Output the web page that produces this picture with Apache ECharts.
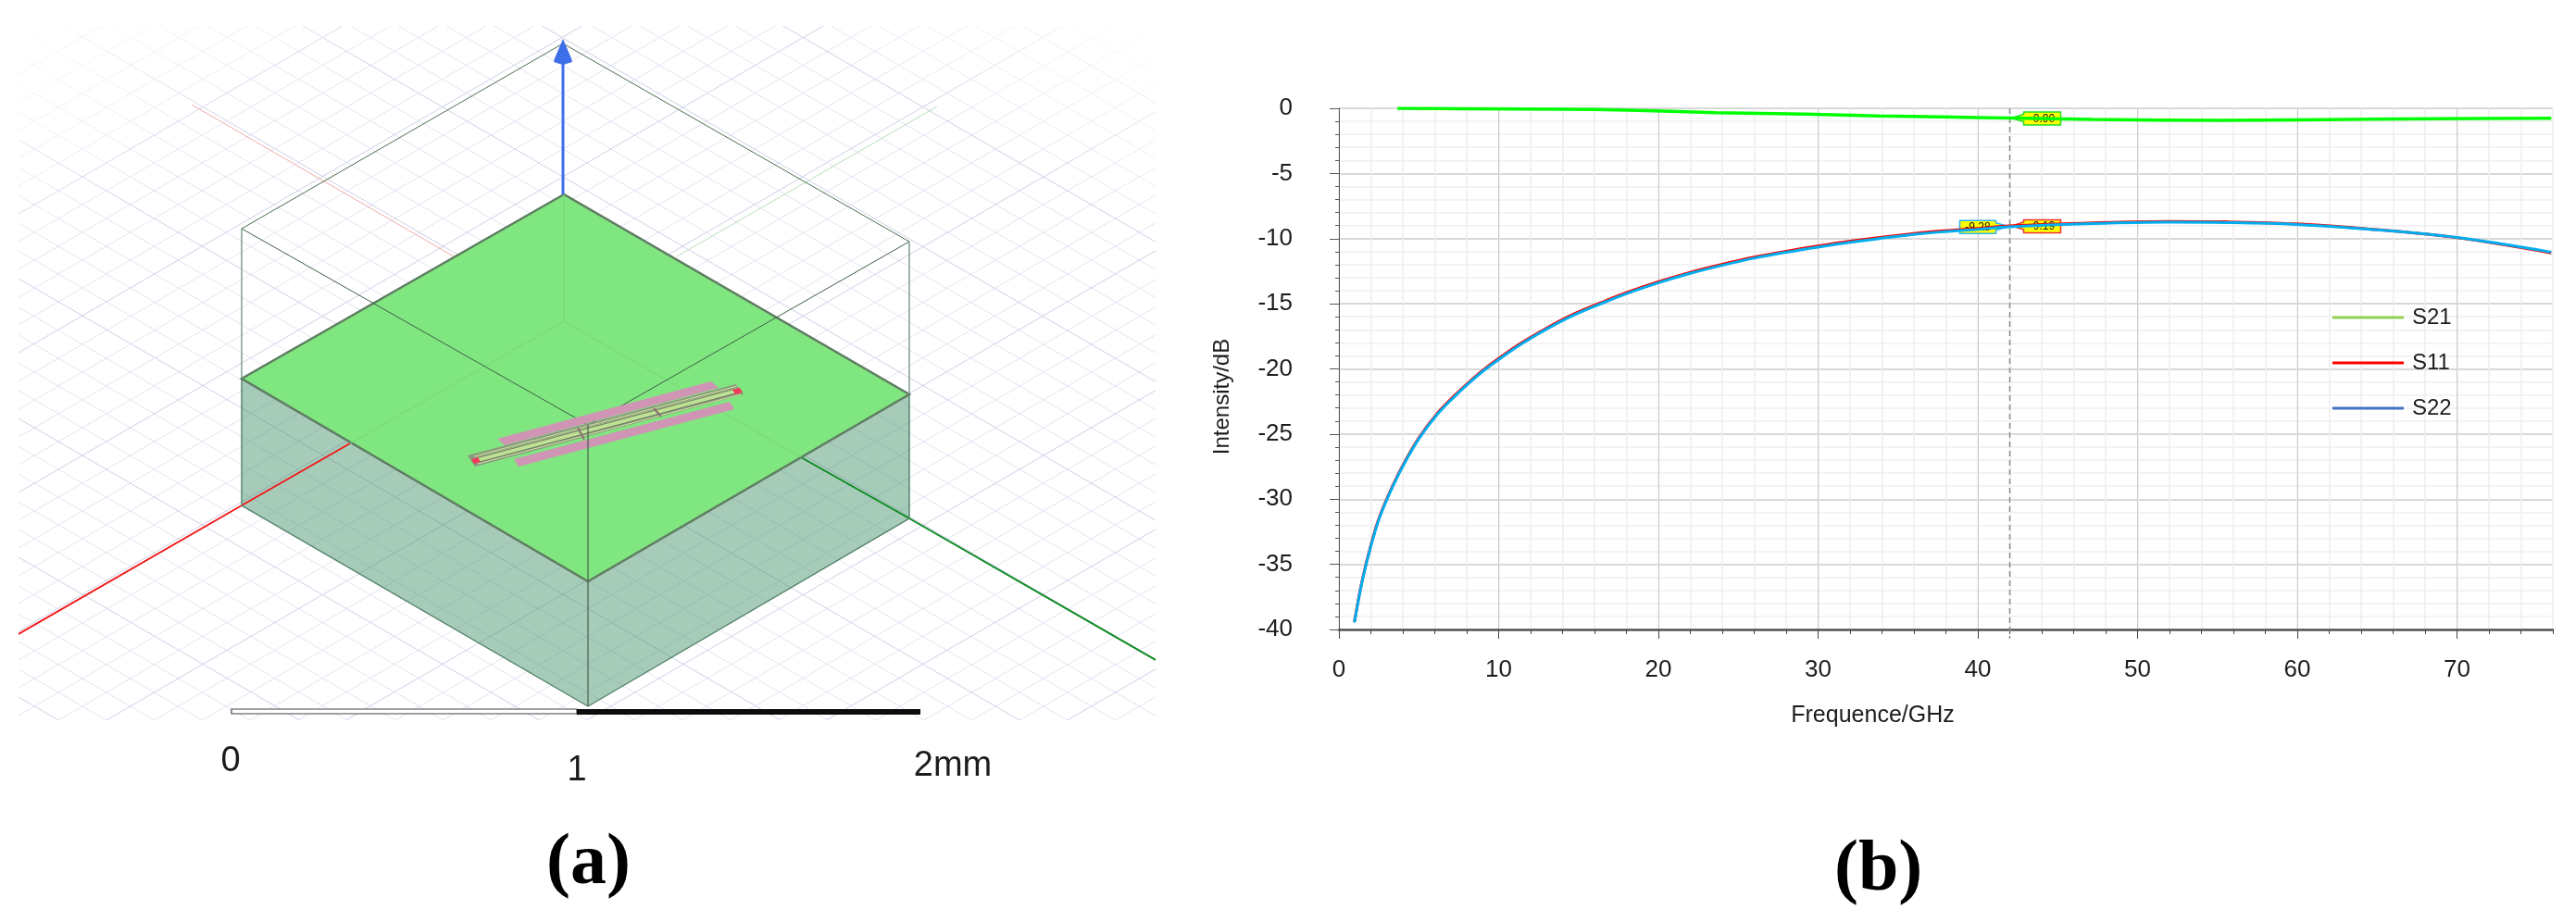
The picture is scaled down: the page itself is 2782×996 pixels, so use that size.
<!DOCTYPE html>
<html>
<head>
<meta charset="utf-8">
<script src="https://cdn.jsdelivr.net/npm/echarts@6/dist/echarts.min.js"></script>
<style>html,body{margin:0;padding:0;background:#fff}</style>
</head>
<body>
<div id="main" style="width:2782px;height:996px;"></div>
<script type="text/javascript">
// panel (b): S parameters
var freqS21 = [3.66, 8.37, 13.9, 18.1, 23.6, 29.2, 33.8, 37.7, 42, 47.2, 55.2, 60.2, 68.9, 75.9];
var s21 = [0, -0.03, -0.07, -0.14, -0.33, -0.45, -0.58, -0.66, -0.75, -0.85, -0.92, -0.88, -0.8, -0.76];
var freqRefl = [0.97, 1.44, 2.0, 2.55, 3.38, 4.21, 5.04, 6.15, 7.26, 8.37, 9.2, 9.98, 11.41, 13.07, 14.74, 16.7, 18.06, 19.98, 21.9, 24, 26, 28, 30, 31.9, 33.8, 36, 37.95, 39.9, 42, 47.2, 51.9, 55.5, 59.9, 64.4, 69.9, 75.9];
var s22 = [-39.47, -36.4, -33.6, -31.4, -29, -27, -25.3, -23.5, -22.1, -20.85, -20, -19.3, -18.1, -16.9, -15.85, -14.85, -14.2, -13.4, -12.7, -12.05, -11.5, -11.05, -10.65, -10.3, -10, -9.68, -9.47, -9.3, -9.1, -8.85, -8.74, -8.77, -8.91, -9.27, -9.9, -11.04];
var s11 = [-39.4, -36.32, -33.52, -31.32, -28.92, -26.92, -25.22, -23.42, -22.02, -20.77, -19.92, -19.22, -18.02, -16.82, -15.77, -14.77, -14.12, -13.32, -12.62, -11.97, -11.42, -10.97, -10.57, -10.22, -9.92, -9.6, -9.39, -9.22, -9.02, -8.79, -8.68, -8.71, -8.87, -9.25, -9.92, -11.1];
var freqTicks = [0, 10, 20, 30, 40, 50, 60, 70];
var seriesNames = ['S21', 'S11', 'S22'];

// marker at 42 GHz: printed value and the curve height it points to
var markerFreq = 42;
var markerText = ['-0.90', '-9.19', '-9.28'];
var markerCurve = [-0.74, -9.02, -9.07];

// panel (a): schematic, in the units of its own hidden axes
var floorDownMinor = [723, 693, 663, 633, 572, 542, 512, 482, 422, 392, 362, 332, 271, 241, 211, 181, 121, 91, 61, 31, -30, -60, -90, -120, -180, -210, -240, -270, -331, -361, -391, -421, -481, -511, -541, -571, -632, -662, -692];
var floorDownMajor = [753, 602, 452, 301, 151, 0, -150, -300, -451, -601];
var floorUpMinor = [50, 111, 141, 171, 201, 261, 291, 321, 351, 412, 442, 472, 502, 562, 592, 622, 652, 713, 743, 773, 803, 863, 893, 923, 953, 1014, 1044, 1074, 1104, 1164, 1194, 1224, 1254, 1315, 1345, 1375, 1405, 1465, 1495];
var floorUpMajor = [80, 231, 381, 532, 682, 833, 983, 1134, 1284, 1435];

var topFace = [[609, 210], [261, 409], [635, 628], [982, 426]];
var leftSide = [[261, 409], [635, 628], [635, 763], [261, 546]];
var rightSide = [[635, 628], [982, 426], [982, 560], [635, 763]];
var airTop = [[608, 47], [261, 247], [635, 459], [982, 261]];

var fadeLeft = [[20, 28], [470, 28], [20, 290]];
var fadeRight = [[1248, 28], [880, 28], [1248, 240]];

var redAxis = [[20, 685], [261, 546], [378, 479]];
var redFaint = [[207, 113], [490, 277]];
var greenAxis = [[865, 494], [982, 560], [1248, 713]];
var greenFaint = [[731, 277], [1012, 115]];
var zAxis = [[608, 210], [608, 66]];
var zCone = [[608, 42], [617, 63], [618, 67], [608, 70], [598, 67], [599, 63]];
var innerBack = [[378, 479], [609, 347], [865, 494]];
var innerMast = [[609, 210], [609, 347]];

var padUpper = [[537, 474], [768, 412], [776, 419], [545, 481]];
var padLower = [[555, 496], [788, 434], [793, 442], [560, 504]];
var lineOuter = [[505, 492], [795, 415], [803, 426], [513, 504]];
var lineInner = [[514, 494], [794, 419], [798, 424], [518, 499]];
var lineEdgeA = [[512, 493], [796, 417]];
var lineEdgeB = [[516, 501], [800, 426]];
var lineGapA = [[514, 495], [794, 420]];
var lineGapB = [[518, 499], [798, 424]];
var portLeft = [[509, 496], [516, 494], [519, 499], [512, 501]];
var portRight = [[791, 421], [799, 419], [802, 424], [794, 426]];
var stubA = [[624, 462], [631, 475]];
var stubB = [[706, 441], [714, 450]];

var scaleWhite = [[250, 766], [623, 766], [623, 771], [250, 771]];
var scaleBlack = [[623, 766], [994, 766], [994, 772], [623, 772]];
var scaleLabels = ['0', '1', '2mm'];
var scaleLabelAt = [[249, 823], [623, 833], [1029, 828]];

var FLOOR_SLOPE = 0.58;
var SANS = '"Liberation Sans", sans-serif';
var TEXT = '#1c1c1c';

function floorLine(offset, sign) {
    return [[20, offset], [1248, offset + sign * FLOOR_SLOPE * 1228]];
}
function floorShapes(list, sign, color) {
    return list.map(function (c) {
        return {pts: floorLine(c, sign), stroke: color, width: 1};
    });
}

var modelShapes = [].concat(
    floorShapes(floorDownMinor, 1, '#e4e4f3'),
    floorShapes(floorUpMinor, -1, '#e4e4f3'),
    floorShapes(floorDownMajor, 1, '#cfcfe8'),
    floorShapes(floorUpMajor, -1, '#cfcfe8'),
    [
        {pts: fadeLeft, fade: [[20, 28], [133, 224]]},
        {pts: fadeRight, fade: [[1248, 28], [1146, 205]]},
        {pts: redFaint, stroke: '#f2aaaa', width: 1},
        {pts: greenFaint, stroke: '#b7ddb7', width: 1},
        {pts: leftSide, closed: true, fill: 'rgba(60,140,100,0.45)'},
        {pts: rightSide, closed: true, fill: 'rgba(60,140,100,0.45)'},
        {pts: redAxis, stroke: '#f01818', width: 2},
        {pts: greenAxis, stroke: '#0a8a1e', width: 2},
        {pts: [leftSide[0], leftSide[3], leftSide[2]], stroke: '#4f8068', width: 1.4},
        {pts: [rightSide[1], rightSide[2], rightSide[3]], stroke: '#4f8068', width: 1.4},
        {pts: topFace, closed: true, fill: '#80e680', stroke: '#5f7d62', width: 2.5},
        {pts: innerBack, stroke: '#76d878', width: 1},
        {pts: innerMast, stroke: '#76d878', width: 1},
        {pts: [airTop[3], airTop[0], airTop[1]], stroke: '#4c6e50', width: 1},
        {pts: [airTop[1], airTop[2], airTop[3]], stroke: '#3f5f45', width: 1},
        {pts: [airTop[1], topFace[1]], stroke: '#76968a', width: 1.4},
        {pts: [airTop[3], topFace[3]], stroke: '#76968a', width: 1.4},
        {pts: padUpper, closed: true, fill: '#d094b4'},
        {pts: padLower, closed: true, fill: '#d094b4'},
        {pts: lineOuter, closed: true, fill: '#8a9880'},
        {pts: lineInner, closed: true, fill: '#bfe194'},
        {pts: lineEdgeA, stroke: '#cfe89a', width: 1},
        {pts: lineEdgeB, stroke: '#cfe89a', width: 1},
        {pts: lineGapA, stroke: '#6a7a60', width: 1},
        {pts: lineGapB, stroke: '#6a7a60', width: 1},
        {pts: portLeft, closed: true, fill: '#f23a5c'},
        {pts: portRight, closed: true, fill: '#f23a5c'},
        {pts: stubA, stroke: '#8b6f70', width: 2},
        {pts: stubB, stroke: '#8b6f70', width: 2},
        {pts: [[635, 459], [635, 763]], stroke: '#43604c', width: 1.2},
        {pts: zAxis, stroke: '#3f6fe8', width: 3},
        {pts: zCone, closed: true, fill: '#3f6fe8'},
        {text: 'Z', at: [615, 18], size: 26, color: '#3f6fe8'},
        {pts: scaleWhite, closed: true, fill: '#ffffff', stroke: '#444444', width: 1.2},
        {pts: scaleBlack, closed: true, fill: '#0c0c0c'}
    ]
);

var scaleShapes = scaleLabels.map(function (t, i) {
    return {text: t, at: scaleLabelAt[i], size: 38, color: TEXT};
});

function drawShape(it, api) {
    if (it.text) {
        var c = api.coord(it.at);
        return {type: 'text', x: c[0], y: c[1], style: {
            text: it.text, fill: it.color, fontSize: it.size,
            fontFamily: SANS, align: 'center', verticalAlign: 'middle'
        }};
    }
    var pts = it.pts.map(function (p) { return api.coord(p); });
    if (it.fade) {
        var a = api.coord(it.fade[0]), b = api.coord(it.fade[1]);
        return {type: 'polygon', shape: {points: pts}, style: {
            fill: new echarts.graphic.LinearGradient(a[0], a[1], b[0], b[1], [
                {offset: 0, color: 'rgba(255,255,255,0.97)'},
                {offset: 1, color: 'rgba(255,255,255,0)'}
            ], true)
        }};
    }
    if (it.closed) {
        return {type: 'polygon', shape: {points: pts}, style: {
            fill: it.fill, stroke: it.stroke || null, lineWidth: it.width || 0
        }};
    }
    return {type: 'polyline', shape: {points: pts}, style: {
        fill: null, stroke: it.stroke, lineWidth: it.width
    }};
}

function modelSeries(items, clip) {
    return {
        type: 'custom', xAxisIndex: 2, yAxisIndex: 1, clip: clip, silent: true,
        data: items.map(function (_, i) { return [i]; }),
        renderItem: function (params, api) {
            return drawShape(items[params.dataIndex], api);
        }
    };
}

function zip(a, b) {
    return a.map(function (v, i) { return [v, b[i]]; });
}

function renderMarker(params, api) {
    var i = params.dataIndex;
    if (i === markerText.length) {
        var top = api.coord([markerFreq, 0]), bot = api.coord([markerFreq, -40]);
        return {type: 'line', shape: {x1: top[0], y1: top[1], x2: bot[0], y2: bot[1] + 10},
            style: {stroke: '#8a8a8a', lineWidth: 1.5, lineDash: [6, 4]}};
    }
    var tip = api.coord([markerFreq, markerCurve[i]]);
    var onLeft = i === 2;
    var tipX = tip[0] + (onLeft ? -1 : 2);
    var near = tip[0] + (onLeft ? -15 : 15);
    var far = tip[0] + (onLeft ? -54 : 55);
    var colors = ['#22dd22', '#f03030', '#28b4f0'];
    return {type: 'group', children: [
        {type: 'polygon', shape: {points: [
            [tipX, tip[1]], [near, tip[1] - 4], [near, tip[1] - 6.5], [far, tip[1] - 6.5],
            [far, tip[1] + 7.5], [near, tip[1] + 7.5], [near, tip[1] + 4]
        ]}, style: {fill: '#ffff00', stroke: colors[i], lineWidth: 1.5}},
        {type: 'text', x: (near + far) / 2, y: tip[1] + 1, style: {
            text: markerText[i], fill: '#111', fontSize: 12, fontFamily: SANS,
            align: 'center', verticalAlign: 'middle'
        }}
    ]};
}

var curveSeries = {
    type: 'line', xAxisIndex: 1, yAxisIndex: 0, showSymbol: false, smooth: 0.35, silent: true
};

var option = {
    animation: false,
    backgroundColor: '#ffffff',
    title: [
        {text: '(a)', left: 585, top: 890, textStyle: {fontFamily: '"Liberation Serif", serif', fontWeight: 'bold', fontSize: 78, color: '#000'}},
        {text: '(b)', left: 1976, top: 897, textStyle: {fontFamily: '"Liberation Serif", serif', fontWeight: 'bold', fontSize: 78, color: '#000'}}
    ],
    legend: {
        orient: 'vertical', left: 2514, top: 326, itemWidth: 77, itemHeight: 3, itemGap: 25,
        icon: 'rect', selectedMode: false,
        textStyle: {fontFamily: SANS, fontSize: 24, color: TEXT, padding: [0, 0, 0, 4]},
        data: [
            {name: 'S21', itemStyle: {color: '#92d050'}, lineStyle: {color: '#92d050', width: 3}},
            {name: 'S11', itemStyle: {color: '#ff0000'}, lineStyle: {color: '#ff0000', width: 3}},
            {name: 'S22', itemStyle: {color: '#4472c4'}, lineStyle: {color: '#4472c4', width: 3}}
        ]
    },
    grid: [
        {left: 1446, top: 117, width: 1311, height: 563},
        {left: 20, top: 28, width: 1228, height: 750}
    ],
    xAxis: [
        // 2 GHz ladder, under the labelled axis
        {
            type: 'value', gridIndex: 0, position: 'bottom', min: 0, max: 76, interval: 2,
            axisLine: {show: false, onZero: false}, axisLabel: {show: false},
            axisTick: {length: 5, lineStyle: {color: '#444', width: 1}},
            splitLine: {show: true, lineStyle: {color: '#eeeeee', width: 1.5}}
        },
        {
            type: 'value', gridIndex: 0, position: 'bottom', min: 0, max: 76, interval: 10,
            name: 'Frequence/GHz', nameLocation: 'middle', nameGap: 81,
            nameTextStyle: {fontFamily: SANS, fontSize: 25, color: TEXT, padding: [0, 158, 0, 0]},
            axisLine: {onZero: false, lineStyle: {color: '#555', width: 2.5}},
            axisTick: {length: 10, customValues: freqTicks, lineStyle: {color: '#444', width: 1}},
            axisLabel: {customValues: freqTicks, margin: 31, fontFamily: SANS, fontSize: 26, color: TEXT},
            splitLine: {show: true, lineStyle: {color: '#cacaca', width: 1}}
        },
        {type: 'value', gridIndex: 1, min: 20, max: 1248, show: false, splitLine: {show: false}}
    ],
    yAxis: [
        {
            type: 'value', gridIndex: 0, min: -40, max: 0, interval: 5,
            name: 'Intensity/dB', nameLocation: 'middle', nameGap: 114,
            nameTextStyle: {fontFamily: SANS, fontSize: 24, color: TEXT, padding: [0, 60, 0, 0]},
            axisLine: {show: true, onZero: false, lineStyle: {color: '#555', width: 1}},
            axisTick: {length: 10, lineStyle: {color: '#555', width: 1}},
            minorTick: {show: true, splitNumber: 5, length: 4, lineStyle: {color: '#555', width: 1}},
            minorSplitLine: {show: true, lineStyle: {color: '#f0f0f0', width: 1.5}},
            axisLabel: {margin: 50, fontFamily: SANS, fontSize: 26, color: TEXT},
            splitLine: {show: true, lineStyle: {color: '#cdcdcd', width: 1.5}}
        },
        {type: 'value', gridIndex: 1, min: 28, max: 778, inverse: true, show: false, splitLine: {show: false}}
    ],
    series: [
        modelSeries(modelShapes, true),
        modelSeries(scaleShapes, false),
        Object.assign({}, curveSeries, {
            name: seriesNames[0], data: zip(freqS21, s21),
            lineStyle: {color: '#00ff00', width: 3.5}, itemStyle: {color: '#92d050'}
        }),
        Object.assign({}, curveSeries, {
            name: seriesNames[1], data: zip(freqRefl, s11),
            lineStyle: {color: '#ff0000', width: 3}, itemStyle: {color: '#ff0000'}
        }),
        Object.assign({}, curveSeries, {
            name: seriesNames[2], data: zip(freqRefl, s22),
            lineStyle: {color: '#00aeef', width: 3}, itemStyle: {color: '#4472c4'}
        }),
        {
            type: 'custom', xAxisIndex: 1, yAxisIndex: 0, silent: true,
            data: [[0], [1], [2], [3]],
            renderItem: renderMarker
        }
    ]
};

var myChart = echarts.init(document.getElementById('main'));
myChart.setOption(option);
</script>
</body>
</html>
